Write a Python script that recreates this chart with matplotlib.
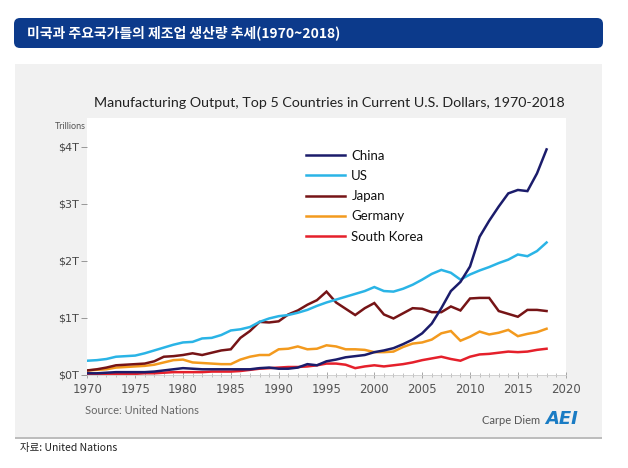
import matplotlib
matplotlib.use("Agg")
import matplotlib.pyplot as plt
from matplotlib.patches import FancyBboxPatch, Rectangle
from matplotlib.transforms import IdentityTransform
from matplotlib.ticker import MultipleLocator, FuncFormatter

# data (trillions of current US$)
years = list(range(1970, 2019))

china = [0.03, 0.03, 0.04, 0.05, 0.05, 0.05, 0.05, 0.06, 0.08, 0.10,
         0.12, 0.11, 0.10, 0.10, 0.10, 0.10, 0.10, 0.10, 0.12, 0.13,
         0.11, 0.11, 0.13, 0.19, 0.17, 0.24, 0.27, 0.31, 0.33, 0.35,
         0.40, 0.43, 0.47, 0.54, 0.62, 0.73, 0.90, 1.17, 1.47, 1.63,
         1.90, 2.42, 2.70, 2.95, 3.18, 3.24, 3.22, 3.53, 3.95]
us = [0.25, 0.26, 0.28, 0.32, 0.33, 0.34, 0.38, 0.43, 0.48, 0.53,
      0.57, 0.58, 0.64, 0.65, 0.70, 0.78, 0.80, 0.84, 0.93, 0.99,
      1.03, 1.05, 1.09, 1.14, 1.21, 1.27, 1.32, 1.37, 1.42, 1.47,
      1.54, 1.47, 1.46, 1.51, 1.58, 1.67, 1.77, 1.84, 1.79, 1.67,
      1.76, 1.83, 1.89, 1.96, 2.02, 2.11, 2.08, 2.17, 2.32]
japan = [0.08, 0.10, 0.13, 0.17, 0.18, 0.19, 0.20, 0.24, 0.32, 0.33,
         0.35, 0.38, 0.35, 0.39, 0.43, 0.45, 0.65, 0.77, 0.93, 0.92,
         0.94, 1.06, 1.13, 1.23, 1.31, 1.46, 1.27, 1.16, 1.05, 1.17,
         1.26, 1.06, 0.99, 1.08, 1.17, 1.16, 1.10, 1.10, 1.20, 1.13,
         1.34, 1.35, 1.35, 1.12, 1.07, 1.02, 1.14, 1.14, 1.12]
germany = [0.08, 0.09, 0.10, 0.13, 0.14, 0.15, 0.16, 0.18, 0.22, 0.26,
           0.27, 0.22, 0.21, 0.20, 0.19, 0.19, 0.27, 0.32, 0.35, 0.35,
           0.45, 0.46, 0.50, 0.45, 0.46, 0.52, 0.50, 0.45, 0.45, 0.44,
           0.40, 0.40, 0.41, 0.49, 0.55, 0.57, 0.62, 0.73, 0.77, 0.60,
           0.67, 0.76, 0.71, 0.74, 0.79, 0.68, 0.72, 0.75, 0.81]
south_korea = [0.01, 0.01, 0.01, 0.02, 0.02, 0.02, 0.03, 0.03, 0.04, 0.05,
               0.05, 0.05, 0.05, 0.06, 0.06, 0.06, 0.07, 0.09, 0.11, 0.12,
               0.13, 0.14, 0.14, 0.15, 0.17, 0.20, 0.20, 0.18, 0.12, 0.15,
               0.17, 0.15, 0.17, 0.19, 0.22, 0.26, 0.29, 0.32, 0.28, 0.25,
               0.32, 0.36, 0.37, 0.39, 0.41, 0.40, 0.41, 0.44, 0.46]

series = [
    ("China", china, "#1b1c6b"),
    ("US", us, "#2ab4e6"),
    ("Japan", japan, "#761416"),
    ("Germany", germany, "#f39a1e"),
    ("South Korea", south_korea, "#e5202b"),
]

fig = plt.figure(figsize=(6.28, 4.68), dpi=100)
fig.patch.set_facecolor("white")

# grey card behind the chart (pixel coords, origin bottom-left)
fig.add_artist(Rectangle((15, 31), 587, 373, transform=IdentityTransform(),
                         facecolor="#f1f1f1", edgecolor="none", zorder=0))
fig.add_artist(Rectangle((15, 29.5), 587, 1.2, transform=IdentityTransform(),
                         facecolor="#bdbdbd", edgecolor="none", zorder=0))

# blue header bar
fig.add_artist(FancyBboxPatch((20, 426), 577, 18, transform=IdentityTransform(),
                              boxstyle="round,pad=6", facecolor="#0c3a8b",
                              edgecolor="none", zorder=1))
fig.text(27 / 628, 1 - 33 / 468, "미국과 주요국가들의 제조업 생산량 추세(1970~2018)",
         family=["Noto Sans CJK KR", "DejaVu Sans"], fontsize=10,
         fontweight="bold", color="white", va="center", ha="left")

ax = fig.add_axes([87.3 / 628, 93 / 468, 478.4 / 628, 257 / 468])
ax.set_facecolor("white")

lines = {}
for name, vals, col in reversed(series):
    ln, = ax.plot(years, vals, color=col, linewidth=1.8, solid_joinstyle="miter")
    lines[name] = ln

ax.set_xlim(1970, 2020)
ax.set_ylim(0, 4.5)
ax.xaxis.set_major_locator(MultipleLocator(5))
ax.xaxis.set_minor_locator(MultipleLocator(1))
ax.yaxis.set_major_locator(MultipleLocator(1))
ax.yaxis.set_major_formatter(FuncFormatter(lambda v, p: f"${int(v)}T"))

for s in ["top", "right"]:
    ax.spines[s].set_visible(False)
ax.spines["left"].set_visible(False)
ax.spines["bottom"].set_color("#cccccc")
ax.spines["bottom"].set_linewidth(0.6)

ax.tick_params(axis="y", length=4, width=0.6, color="#888888",
               labelsize=8, labelcolor="#444444", pad=2)
ax.tick_params(axis="x", which="major", length=5, width=0.6, color="#999999",
               direction="inout", labelsize=8.5, labelcolor="#555555", pad=3)
ax.tick_params(axis="x", which="minor", length=3, width=0.5, color="#aaaaaa",
               direction="inout")

ax.legend([lines[n] for n, _, _ in series], [n for n, _, _ in series],
          loc="upper left", bbox_to_anchor=(0.432, 0.922), frameon=False,
          handlelength=3.0, labelspacing=0.62, handletextpad=0.45,
          labelcolor="#111111", prop={"family": "Lato", "size": 9.5})

fig.text(329 / 628, 1 - 103 / 468,
         "Manufacturing Output, Top 5 Countries in Current U.S. Dollars, 1970-2018",
         family="Lato", fontsize=10.3, color="#222222", ha="center", va="center")
fig.text(86 / 628, 1 - 127 / 468, "Trillions", family="Lato", fontsize=6.5,
         color="#555555", ha="right", va="center")
fig.text(85 / 628, 1 - 411 / 468, "Source: United Nations", family="Lato",
         fontsize=8, color="#666666", ha="left", va="center")
fig.text(540 / 628, 1 - 421 / 468, "Carpe Diem", family="Lato", fontsize=8,
         color="#555555", ha="right", va="center")
fig.text(545 / 628, 1 - 419 / 468, "AEI", family="DejaVu Sans", fontsize=13,
         fontweight="bold", fontstyle="italic", color="#1a7cc4",
         ha="left", va="center")

fig.text(20 / 628, 1 - 448 / 468, "자료: United Nations",
         family=["Noto Sans CJK KR", "DejaVu Sans"], fontsize=7.5,
         color="#222222", ha="left", va="center")

fig.savefig("out.png", dpi=100)
